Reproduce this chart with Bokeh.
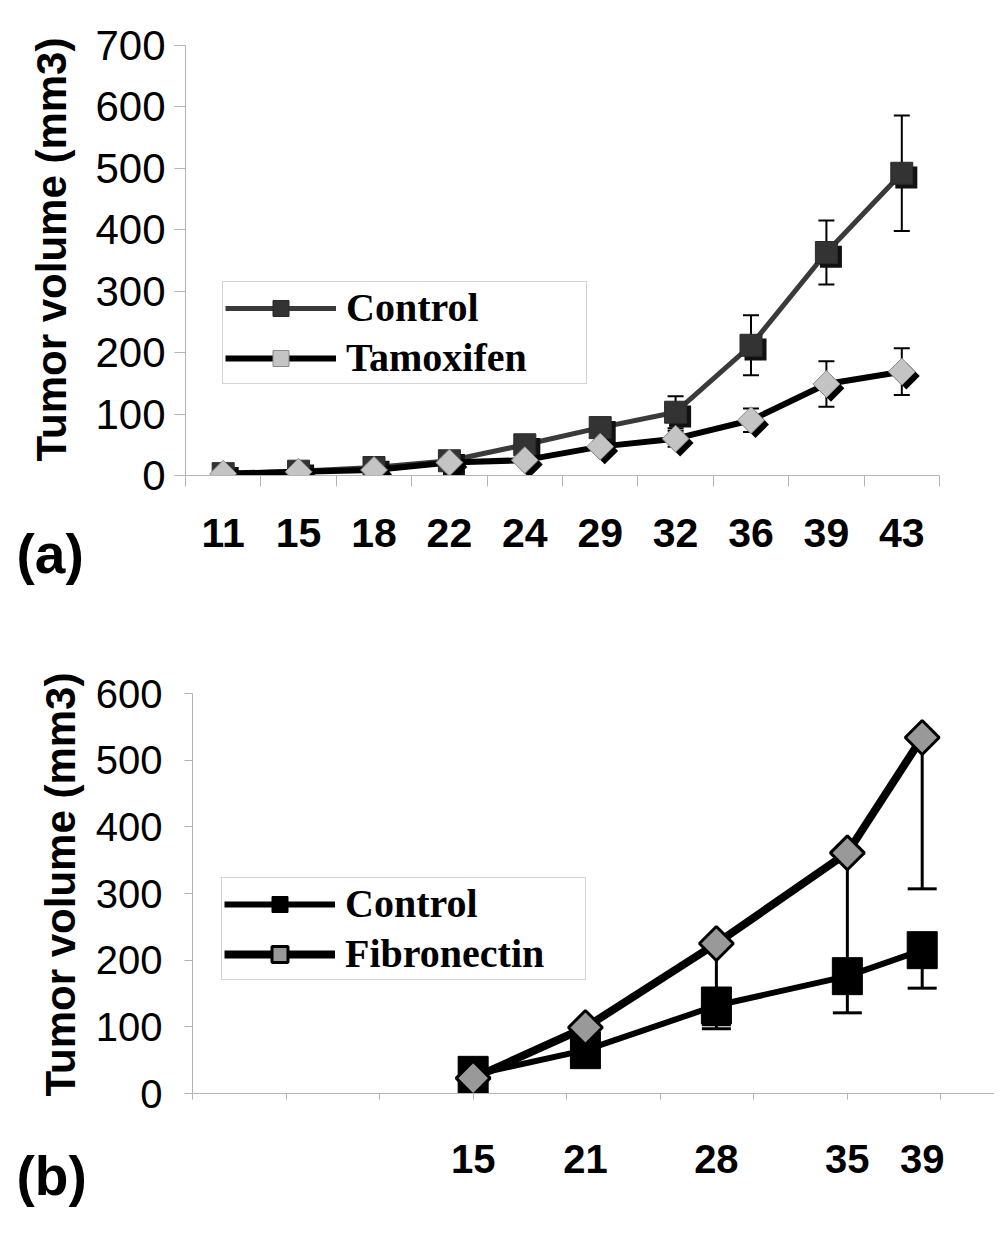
import math
from bokeh.plotting import figure
from bokeh.layouts import column, row
from bokeh.models import (Range1d, FixedTicker, Label, Legend, LegendItem,
                          ColumnDataSource)
from bokeh.transform import dodge
from bokeh.embed import file_html
from bokeh.resources import INLINE

# ---------------- data: panel (a) ----------------
days_a = [11, 15, 18, 22, 24, 29, 32, 36, 39, 43]
control_a = [3, 7, 13, 24, 50, 78, 103, 212, 363, 492]
control_a_err = [2, 2, 3, 4, 6, 10, 26, 49, 52, 94]
tamox_a = [3, 6, 9, 21, 25, 47, 60, 90, 149, 169]
tamox_a_err = [1, 2, 2, 3, 4, 8, 13, 19, 37, 38]
yticks_a = [0, 100, 200, 300, 400, 500, 600, 700]

# ---------------- data: panel (b) ----------------
days_b = [15, 21, 28, 35, 39]
control_b = [28, 65, 132, 176, 215]
control_b_err = [13, 22, 35, 55, 57]
fibro_b = [23, 99, 225, 361, 534]
fibro_b_err = [10, 40, 122, 165, 227]
yticks_b = [0, 100, 200, 300, 400, 500, 600]
xminor_b = [0, 5, 10, 15, 20, 25, 30, 35, 40]

YLABEL = "Tumor volume (mm3)"
AX = "#b4b4b4"
SANS = "Liberation Sans"
SERIF = "Liberation Serif"
W = 994
SW = 92          # width of the left text strip
PW = W - SW
HA, HB = 612, 615


def style_common(p):
    p.outline_line_color = None
    p.xgrid.visible = False
    p.ygrid.visible = False
    p.background_fill_color = "white"
    p.border_fill_color = "white"
    p.frame_align = False


def text_strip(h, ylab_x, ylab_y, tag, tag_x, tag_y):
    s = figure(width=SW, height=h, output_backend="svg", toolbar_location=None,
               x_range=Range1d(0, SW), y_range=Range1d(0, h),
               min_border=0, min_border_left=0, min_border_right=0,
               min_border_top=0, min_border_bottom=0)
    style_common(s)
    s.axis.visible = False
    s.add_layout(Label(x=ylab_x, y=ylab_y, text=YLABEL, angle=math.pi / 2,
                       text_font=SANS, text_font_style="bold", text_font_size="42px",
                       text_align="center", text_baseline="middle", text_color="black"))
    s.add_layout(Label(x=tag_x, y=tag_y, text=tag,
                       text_font=SANS, text_font_style="bold", text_font_size="55px",
                       text_align="left", text_baseline="middle", text_color="black"))
    return s


def legend_for(items, loc):
    return Legend(items=items, location=loc, label_text_font=SERIF,
                  label_text_font_style="bold", label_text_font_size="40px",
                  label_text_color="black", glyph_width=111, glyph_height=40,
                  label_height=40, label_width=238, label_standoff=10,
                  padding=2, spacing=3, margin=0,
                  border_line_color="#aaaaaa", border_line_width=1,
                  background_fill_color="white", background_fill_alpha=1)


# =============== panel (a) ===============
idx_a = list(range(len(days_a)))
pa = figure(width=PW, height=HA, output_backend="svg", toolbar_location=None,
            x_range=Range1d(-0.5, len(days_a) - 0.5), y_range=Range1d(0, 700),
            min_border_left=90, min_border_right=PW - 90 - 757, min_border_top=45,
            min_border_bottom=137)
style_common(pa)

src_ca = ColumnDataSource(dict(
    x=idx_a, y=control_a,
    lo=[v - e for v, e in zip(control_a, control_a_err)],
    hi=[v + e for v, e in zip(control_a, control_a_err)]))
src_ta = ColumnDataSource(dict(
    x=idx_a, y=tamox_a,
    lo=[v - e for v, e in zip(tamox_a, tamox_a_err)],
    hi=[v + e for v, e in zip(tamox_a, tamox_a_err)]))

# control
pa.segment(x0="x", y0="lo", x1="x", y1="hi", source=src_ca, line_color="black", line_width=2)
pa.scatter(x="x", y="hi", source=src_ca, marker="dash", size=16, line_color="black", line_width=2)
pa.scatter(x="x", y="lo", source=src_ca, marker="dash", size=16, line_color="black", line_width=2)
l_ca = pa.line(x="x", y="y", source=src_ca, line_color="#3a3a3a", line_width=5)
pa.scatter(x=dodge("x", 0.06), y=dodge("y", -7), source=src_ca, marker="square",
           size=22, fill_color="#111111", line_color=None)
m_ca = pa.scatter(x="x", y="y", source=src_ca, marker="square", size=22,
                  fill_color="#333333", line_color="#2a2a2a", line_width=1)
# tamoxifen
pa.segment(x0="x", y0="lo", x1="x", y1="hi", source=src_ta, line_color="black", line_width=2)
pa.scatter(x="x", y="hi", source=src_ta, marker="dash", size=16, line_color="black", line_width=2)
pa.scatter(x="x", y="lo", source=src_ta, marker="dash", size=16, line_color="black", line_width=2)
l_ta = pa.line(x="x", y="y", source=src_ta, line_color="black", line_width=6)
pa.scatter(x=dodge("x", 0.06), y=dodge("y", -7), source=src_ta, marker="square",
           angle=math.pi / 4, size=19, fill_color="black", line_color=None)
m_ta = pa.scatter(x="x", y="y", source=src_ta, marker="square", angle=math.pi / 4,
                  size=19, fill_color="#c4c4c4", line_color="#8a8a8a", line_width=1)

xa = pa.xaxis[0]
xa.ticker = FixedTicker(ticks=idx_a, minor_ticks=[i - 0.5 for i in range(len(days_a) + 1)])
xa.major_label_overrides = {i: str(d) for i, d in enumerate(days_a)}
xa.major_tick_out = 0
xa.major_tick_in = 0
xa.minor_tick_out = 11
xa.minor_tick_in = 0
xa.minor_tick_line_color = AX
xa.axis_line_color = AX
xa.major_label_text_font = SANS
xa.major_label_text_font_size = "41px"
xa.major_label_text_font_style = "bold"
xa.major_label_text_color = "black"
xa.major_label_standoff = 32

ya = pa.yaxis[0]
ya.ticker = FixedTicker(ticks=yticks_a)
ya.major_tick_out = 11
ya.major_tick_in = 0
ya.minor_tick_out = 0
ya.minor_tick_in = 0
ya.major_tick_line_color = AX
ya.axis_line_color = AX
ya.major_label_text_font = SANS
ya.major_label_text_font_size = "42px"
ya.major_label_text_color = "black"
ya.major_label_standoff = 9

pa.add_layout(legend_for([LegendItem(label="Control", renderers=[l_ca, m_ca]),
                          LegendItem(label="Tamoxifen", renderers=[l_ta, m_ta])],
                         (37, 91)))

strip_a = text_strip(HA, 51, 363, "(a)", 16, 59)

# =============== panel (b) ===============
pb = figure(width=PW, height=HB, output_backend="svg", toolbar_location=None,
            x_range=Range1d(0, (PW - 97) / 18.78), y_range=Range1d(0, 600),
            min_border_left=97, min_border_right=0, min_border_top=81,
            min_border_bottom=134)
style_common(pb)

src_cb = ColumnDataSource(dict(
    x=days_b, y=control_b,
    lo=[v - e for v, e in zip(control_b, control_b_err)]))
src_fb = ColumnDataSource(dict(
    x=days_b, y=fibro_b,
    lo=[v - e for v, e in zip(fibro_b, fibro_b_err)]))

# error bars (lower only)
pb.segment(x0="x", y0="lo", x1="x", y1="y", source=src_fb, line_color="black", line_width=3)
pb.scatter(x="x", y="lo", source=src_fb, marker="dash", size=29, line_color="black", line_width=3)
pb.segment(x0="x", y0="lo", x1="x", y1="y", source=src_cb, line_color="black", line_width=3)
pb.scatter(x="x", y="lo", source=src_cb, marker="dash", size=29, line_color="black", line_width=3)

l_cb = pb.line(x="x", y="y", source=src_cb, line_color="black", line_width=6)
m_cb_leg = pb.scatter(x="x", y="y", source=src_cb, marker="square", size=4,
                      fill_color="black", line_color="black")
pb.rect(x="x", y="y", width=30, height=37, width_units="screen", height_units="screen",
        source=src_cb, fill_color="black", line_color="black")
l_fb = pb.line(x="x", y="y", source=src_fb, line_color="black", line_width=8)
m_fb = pb.scatter(x="x", y="y", source=src_fb, marker="square", angle=math.pi / 4,
                  size=24, fill_color="#999999", line_color="black", line_width=3)

xb = pb.xaxis[0]
xb.ticker = FixedTicker(ticks=days_b, minor_ticks=xminor_b)
xb.major_tick_out = 0
xb.major_tick_in = 0
xb.minor_tick_out = 6
xb.minor_tick_in = 0
xb.minor_tick_line_color = AX
xb.axis_line_color = AX
xb.major_label_text_font = SANS
xb.major_label_text_font_size = "40px"
xb.major_label_text_font_style = "bold"
xb.major_label_text_color = "black"
xb.major_label_standoff = 45

yb = pb.yaxis[0]
yb.ticker = FixedTicker(ticks=yticks_b)
yb.major_tick_out = 8
yb.major_tick_in = 0
yb.minor_tick_out = 0
yb.minor_tick_in = 0
yb.major_tick_line_color = AX
yb.axis_line_color = AX
yb.major_label_text_font = SANS
yb.major_label_text_font_size = "40px"
yb.major_label_text_color = "black"
yb.major_label_standoff = 22

pb.add_layout(legend_for([LegendItem(label="Control", renderers=[l_cb, m_cb_leg]),
                          LegendItem(label="Fibronectin", renderers=[l_fb, m_fb])],
                         (29, 113)))

strip_b = text_strip(HB, 60, 343, "(b)", 16, 52)

p = column(row(strip_a, pa), row(strip_b, pb))
open("out.html", "w").write(file_html(p, INLINE))
